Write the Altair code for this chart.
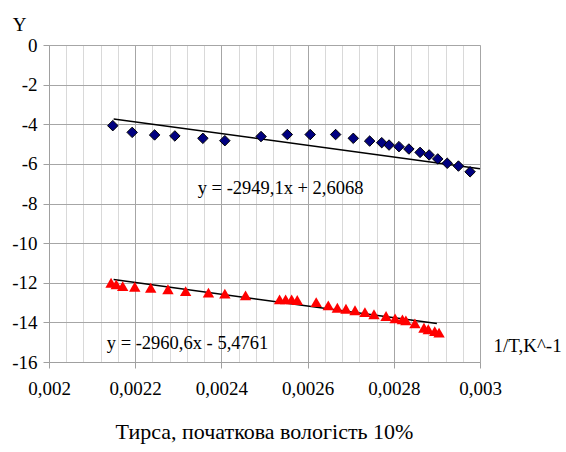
import altair as alt
import pandas as pd

# Series 1 (blue diamonds)
blue_x = [0.002148, 0.002193, 0.002245, 0.002292, 0.002357, 0.002408, 0.002492, 0.002553,
          0.002606, 0.002665, 0.002706, 0.002744, 0.002772, 0.002789, 0.002812, 0.002835,
          0.002861, 0.002882, 0.002902, 0.002924, 0.002950, 0.002977]
blue_y = [-4.07, -4.41, -4.54, -4.59, -4.71, -4.83, -4.62, -4.52, -4.52, -4.52, -4.71,
          -4.85, -4.93, -5.05, -5.13, -5.25, -5.42, -5.55, -5.75, -5.97, -6.11, -6.40]

# Series 2 (red triangles)
red_x = [0.002144, 0.002156, 0.002171, 0.002199, 0.002236, 0.002276, 0.002317, 0.002370,
         0.002408, 0.002456, 0.002535, 0.002549, 0.002563, 0.002576, 0.002620, 0.002648,
         0.002669, 0.002689, 0.002710, 0.002733, 0.002754, 0.002782, 0.002803, 0.002820,
         0.002828, 0.002849, 0.002870, 0.002880, 0.002895, 0.002905]
red_y = [-12.00, -12.08, -12.17, -12.20, -12.25, -12.33, -12.42, -12.50, -12.55, -12.64,
         -12.84, -12.84, -12.84, -12.87, -12.98, -13.14, -13.26, -13.31, -13.39, -13.48,
         -13.59, -13.68, -13.80, -13.85, -13.90, -14.05, -14.27, -14.35, -14.44, -14.52]

# Linear trend lines (coefficients from the chart)
blue_slope, blue_icpt = -2949.1, 2.6068
red_slope, red_icpt = -2960.6, -5.4761
blue_trend_x = [0.00215, 0.003]
red_trend_x = [0.00215, 0.0029]

eq_text = ["y = -2949,1x + 2,6068", "y = -2960,6x - 5,4761"]
eq_x = [0.002345, 0.002134]
eq_y = [-7.22, -15.04]

x_major = [0.002, 0.0022, 0.0024, 0.0026, 0.0028, 0.003]
x_grid = [round(0.002 + k * 0.00004, 6) for k in range(26)]
y_ticks = [0, -2, -4, -6, -8, -10, -12, -14, -16]

FONT = "Liberation Serif"
FS = 19

blue_df = pd.DataFrame({"x": blue_x, "y": blue_y})
red_df = pd.DataFrame({"x": red_x, "y": red_y})
trend_df = pd.DataFrame({
    "x": blue_trend_x + red_trend_x,
    "y": [blue_slope * v + blue_icpt for v in blue_trend_x] + [red_slope * v + red_icpt for v in red_trend_x],
    "s": ["b", "b", "r", "r"],
})
eq_df = pd.DataFrame({"t": eq_text, "x": eq_x, "y": eq_y})

major_test = "abs(datum.value*5000 - round(datum.value*5000)) < 0.001"

xscale = alt.Scale(domain=[0.002, 0.003], nice=False, zero=False)
yscale = alt.Scale(domain=[-16, 0], nice=False, zero=False)

xaxis = alt.Axis(
    values=x_grid,
    labelExpr=f"({major_test}) ? replace(format(datum.value, '~g'), '.', ',') : ''",
    grid=True,
    gridColor={"condition": {"test": major_test, "value": "#a6a6a6"}, "value": "#d9d9d9"},
    tickSize={"condition": {"test": major_test, "value": 6}, "value": 0},
    tickColor="#a0a0a0",
    domainColor="#a0a0a0",
    labelFont=FONT, labelFontSize=FS, labelColor="black", labelPadding=11,
    labelFlush=False, labelOverlap=False, labelBound=False,
    title="1/T,K^-1", titleFont=FONT, titleFontSize=FS, titleFontWeight="normal",
    titleColor="black", titleAlign="left", titleBaseline="middle",
    titleX=444, titleY=-17,
)
yaxis = alt.Axis(
    values=y_ticks,
    labelExpr="datum.value + ''",
    grid=True, gridColor="#a6a6a6",
    tickSize=6, tickColor="#a0a0a0", domainColor="#a0a0a0",
    labelFont=FONT, labelFontSize=FS, labelColor="black", labelPadding=6,
    labelFlush=False, labelOverlap=False, labelBound=False,
    title="Y", titleAngle=0, titleFont=FONT, titleFontSize=FS, titleFontWeight="normal",
    titleColor="black", titleAlign="center", titleBaseline="middle",
    titleX=-30, titleY=-21,
)

X = alt.X("x:Q", scale=xscale, axis=xaxis)
Y = alt.Y("y:Q", scale=yscale, axis=yaxis)

trend = alt.Chart(trend_df).mark_line(color="black", strokeWidth=1.5).encode(
    x=X, y=Y, detail="s:N",
)
blue = alt.Chart(blue_df).mark_point(
    shape="diamond", filled=True, fill="#000080", stroke="black", strokeWidth=1, size=110, opacity=1
).encode(x=X, y=Y)
red = alt.Chart(red_df).mark_point(
    shape="triangle-up", filled=True, fill="#ff0000", strokeWidth=0, size=130, opacity=1
).encode(x=X, y=Y)
eqs = alt.Chart(eq_df).mark_text(
    font=FONT, fontSize=18.5, align="left", baseline="middle", color="black"
).encode(x=X, y=Y, text="t:N")

chart = alt.layer(trend, blue, red, eqs).properties(
    width=431, height=317,
    padding={"left": 49, "top": 45, "right": 86, "bottom": 90},
    autosize=alt.AutoSizeParams(type="none"),
    title=alt.TitleParams(
        "Тирса, початкова вологість 10%", orient="bottom", anchor="middle",
        font=FONT, fontSize=22, fontWeight="normal", color="black", offset=24,
    ),
).configure_view(stroke=None).configure(background="white").configure_axis(
    labelFont=FONT, titleFont=FONT
)

chart.save("out.html", embed_options={"renderer": "svg", "actions": False})
